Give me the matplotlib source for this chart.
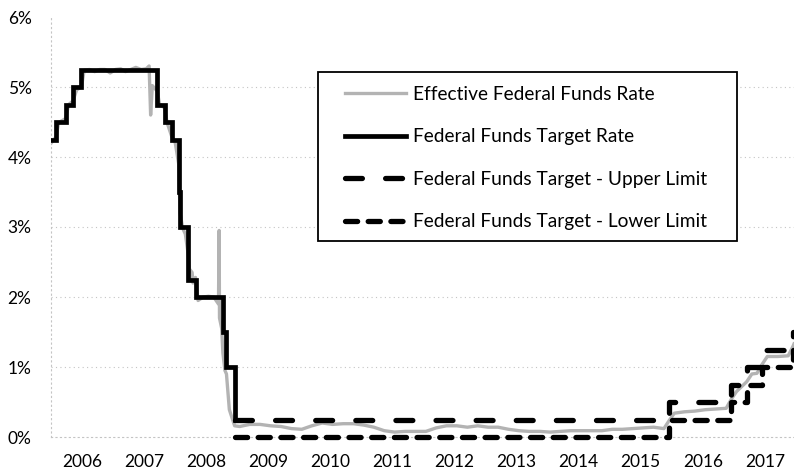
import numpy as np
import matplotlib
matplotlib.use("Agg")
import matplotlib.pyplot as plt
from matplotlib.patches import Rectangle

plt.rcParams['font.family'] = ['Lato', 'DejaVu Sans']

# Federal funds target rate (single target, until Dec 2008)
target_dates = ['2006-01-01', '2006-01-31', '2006-03-28', '2006-05-10', '2006-06-29',
                '2007-09-18', '2007-10-31', '2007-12-11', '2008-01-22', '2008-01-30',
                '2008-03-18', '2008-04-30', '2008-10-08', '2008-10-29', '2008-12-16']
target_vals = [4.25, 4.50, 4.75, 5.00, 5.25,
               4.75, 4.50, 4.25, 3.50, 3.00,
               2.25, 2.00, 1.50, 1.00, 0.25]

# Target range (from Dec 2008)
range_dates = ['2008-12-16', '2015-12-17', '2016-12-15', '2017-03-16',
               '2017-06-15', '2017-12-14', '2017-12-19']
upper_vals = [0.25, 0.50, 0.75, 1.00, 1.25, 1.50, 1.50]
lower_vals = [0.00, 0.25, 0.50, 0.75, 1.00, 1.25, 1.25]

# Effective federal funds rate (with the visible spikes)
eff_dates = ['2006-01-02', '2006-01-31', '2006-02-15', '2006-03-28', '2006-04-15',
             '2006-05-10', '2006-06-01', '2006-06-29', '2006-07-15', '2006-08-15',
             '2006-09-15', '2006-10-15', '2006-11-15', '2006-12-15', '2007-01-15',
             '2007-02-15', '2007-03-15', '2007-04-15', '2007-05-15', '2007-06-15',
             '2007-07-15', '2007-08-01', '2007-08-10', '2007-08-20', '2007-09-18',
             '2007-10-01', '2007-10-31', '2007-11-15', '2007-12-11', '2008-01-02',
             '2008-01-22', '2008-01-30', '2008-02-15', '2008-03-01', '2008-03-18',
             '2008-03-25', '2008-04-10', '2008-04-15', '2008-04-30', '2008-05-15',
             '2008-06-15', '2008-07-15', '2008-08-15', '2008-09-12', '2008-09-16',
             '2008-09-18', '2008-10-01', '2008-10-08', '2008-10-20', '2008-10-29',
             '2008-11-15', '2008-12-16', '2009-01-15', '2009-03-15', '2009-05-15',
             '2009-07-15', '2009-09-15', '2009-11-15', '2010-01-15', '2010-03-15',
             '2010-05-15', '2010-07-15', '2010-09-15', '2010-11-15', '2011-01-15',
             '2011-03-15', '2011-05-15', '2011-07-15', '2011-09-15', '2011-11-15',
             '2012-01-15', '2012-03-15', '2012-05-15', '2012-07-15', '2012-09-15',
             '2012-11-15', '2013-01-15', '2013-03-15', '2013-05-15', '2013-07-15',
             '2013-09-15', '2013-11-15', '2014-01-15', '2014-03-15', '2014-05-15',
             '2014-07-15', '2014-09-15', '2014-11-15', '2015-01-15', '2015-03-15',
             '2015-05-15', '2015-07-15', '2015-09-15', '2015-11-15', '2015-12-17',
             '2016-01-15', '2016-03-15', '2016-05-15', '2016-07-15', '2016-09-15',
             '2016-11-15', '2016-12-15', '2017-01-15', '2017-03-16', '2017-04-15',
             '2017-05-15', '2017-06-15', '2017-07-15', '2017-09-15', '2017-11-15',
             '2017-12-14', '2017-12-19']
eff_vals = [4.20, 4.29, 4.49, 4.55, 4.75,
            4.80, 4.96, 5.00, 5.24, 5.25,
            5.22, 5.25, 5.25, 5.20, 5.25,
            5.26, 5.22, 5.25, 5.28, 5.25,
            5.26, 5.30, 4.60, 5.02, 4.94,
            4.76, 4.70, 4.49, 4.30, 4.20,
            3.90, 3.20, 2.98, 2.90, 2.61,
            2.40, 2.35, 2.20, 2.28, 1.95,
            2.00, 2.01, 2.00, 1.90, 2.95,
            1.70, 1.55, 1.20, 0.95, 0.90,
            0.39, 0.16, 0.15, 0.18, 0.18,
            0.16, 0.15, 0.12, 0.11, 0.16,
            0.20, 0.18, 0.19, 0.19, 0.17,
            0.14, 0.09, 0.07, 0.08, 0.08,
            0.08, 0.13, 0.16, 0.16, 0.14,
            0.16, 0.14, 0.14, 0.11, 0.09,
            0.08, 0.08, 0.07, 0.08, 0.09,
            0.09, 0.09, 0.09, 0.11, 0.11,
            0.12, 0.13, 0.14, 0.12, 0.24,
            0.34, 0.36, 0.37, 0.39, 0.40,
            0.41, 0.54, 0.65, 0.79, 0.90,
            0.91, 1.04, 1.15, 1.15, 1.16,
            1.30, 1.33]

years = list(range(2006, 2018))

target_x = np.array(target_dates, dtype='datetime64[D]')
range_x = np.array(range_dates, dtype='datetime64[D]')
eff_x = np.array(eff_dates, dtype='datetime64[D]')

fig = plt.figure(figsize=(7.94, 4.74), dpi=100)
ax = fig.add_axes([51 / 794, 1 - 437 / 474, 743 / 794, 420 / 474])

grid_col = '#c4c4c4'
for v in range(1, 6):
    ax.axhline(v, color=grid_col, lw=0.8, ls=(0, (1, 3)), zorder=0)

ax.plot(eff_x, eff_vals, color='#b3b3b3', lw=2.4, zorder=2,
        label='Effective Federal Funds Rate')
ax.plot(target_x, target_vals, color='black', lw=3.4, drawstyle='steps-post',
        solid_joinstyle='miter', zorder=3, label='Federal Funds Target Rate')
ax.plot(range_x, upper_vals, color='black', lw=3.8, drawstyle='steps-post',
        dashes=(3.2, 4.4), dash_capstyle='round', zorder=3,
        label='Federal Funds Target - Upper Limit')
ax.plot(range_x, lower_vals, color='black', lw=3.8, drawstyle='steps-post',
        dashes=(2.3, 2.0), dash_capstyle='round', zorder=3, clip_on=False,
        label='Federal Funds Target - Lower Limit')

ax.set_xlim(np.datetime64('2006-01-01'), np.datetime64('2017-12-19'))
ax.set_ylim(0, 6)

ax.set_yticks(range(0, 7))
ax.set_yticklabels([f'{v}%' for v in range(0, 7)])
ax.set_xticks([np.datetime64(f'{y}-07-01') for y in years])
ax.set_xticklabels([str(y) for y in years])
ax.tick_params(axis='y', length=0, pad=14, labelsize=12.5)
ax.tick_params(axis='x', length=0, pad=12, labelsize=12.5)

for s in ['top', 'right']:
    ax.spines[s].set_visible(False)
for s in ['left', 'bottom']:
    ax.spines[s].set_color(grid_col)
    ax.spines[s].set_linewidth(0.8)
    ax.spines[s].set_linestyle((0, (1, 3)))

# legend frame drawn separately so the padding can differ per side
ax.add_patch(Rectangle((0.3594, 0.4667), 0.5639, 0.4023, transform=ax.transAxes,
                       facecolor='white', edgecolor='black', lw=1.3, zorder=4))
leg = ax.legend(loc='upper left', bbox_to_anchor=(0.3957, 0.836), borderaxespad=0,
                fontsize=13.8, handlelength=3.18, handletextpad=0.37, labelspacing=1.33,
                borderpad=0, frameon=False)
leg.set_zorder(5)

fig.savefig('out.png', dpi=100)
